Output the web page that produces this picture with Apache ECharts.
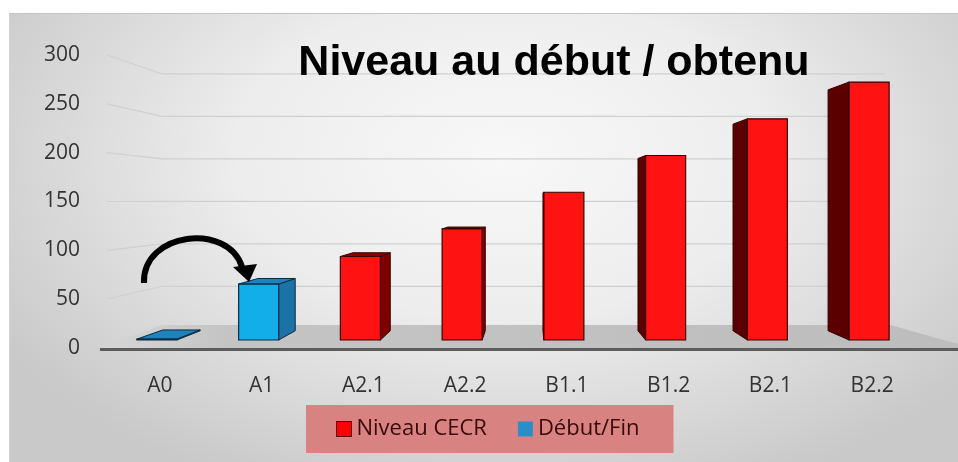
<!DOCTYPE html>
<html>
<head>
<meta charset="utf-8">
<script src="https://cdn.jsdelivr.net/npm/echarts@6/dist/echarts.min.js"></script>
<style>
    html, body { margin: 0; padding: 0; background: #fff; }
    #wrap { position: relative; width: 958px; height: 462px; overflow: hidden; }
    #bg {
        position: absolute; left: 9px; top: 13px; right: 0; bottom: 0;
        border-top: 1px solid #c4c4c4; border-left: 1px solid #d4d4d4;
        background: radial-gradient(ellipse 62% 80% at 52% 32%, #f8f8f8 0%, #ededed 45%, #c9c9c9 100%);
    }
    #chart { position: absolute; left: 0; top: 0; width: 958px; height: 462px; }
</style>
</head>
<body>
<div id="wrap">
    <div id="bg"></div>
    <div id="chart"></div>
</div>
<script>
    var categories = ['A0', 'A1', 'A2.1', 'A2.2', 'B1.1', 'B1.2', 'B2.1', 'B2.2'];
    var niveauCECR = [null, null, 90, 120, 160, 200, 240, 280];
    var debutFin = [0, 60, null, null, null, null, null, null];
    var yTicks = [0, 50, 100, 150, 200, 250, 300];

    var VP = [530, 200]; // point de fuite de la perspective

    function toPairs(arr) {
        var out = [];
        arr.forEach(function (v, i) { if (v !== null) out.push([i, v]); });
        return out;
    }

    function bar3d(c) {
        return function (params, api) {
            var i = api.value(0), v = api.value(1);
            var b = api.coord([i, 0]);
            var t = api.coord([i, v]);
            var cx = b[0] - 3;
            var x0 = cx - 20, x1 = cx + 20;
            var yb = b[1] + (VP[1] - b[1]) * 0.054;
            var yt = t[1] + (VP[1] - t[1]) * 0.06;
            function back(x, y) { return [x + (VP[0] - x) * 0.066, y + (VP[1] - y) * 0.066]; }
            var kids = [];
            var sx = cx < VP[0] ? x1 : x0;
            var sideCol = cx < VP[0] ? c.sideR : c.sideL;
            if (yb - yt > 0.5) {
                kids.push({
                    type: 'polygon',
                    shape: { points: [[sx, yt], [sx, yb], back(sx, yb), back(sx, yt)] },
                    style: { fill: sideCol, stroke: c.line, lineWidth: 1 }
                });
            }
            if (yt > VP[1]) {
                kids.push({
                    type: 'polygon',
                    shape: { points: [[x0, yt], [x1, yt], back(x1, yt), back(x0, yt)] },
                    style: { fill: c.top, stroke: c.line, lineWidth: 1 }
                });
            }
            if (yb - yt > 0.5) {
                kids.push({
                    type: 'rect',
                    shape: { x: x0, y: yt, width: 40, height: yb - yt },
                    style: { fill: c.front, stroke: c.line, lineWidth: 1.2 }
                });
            }
            return { type: 'group', children: kids };
        };
    }

    var red = { front: '#ff1212', sideL: '#5a0000', sideR: '#7e0000', top: '#8a0000', line: '#3a0000' };
    var blue = { front: '#12aee9', sideL: '#176fa3', sideR: '#1a72a6', top: '#1f82bb', line: '#0b2a44' };

    var myChart = echarts.init(document.getElementById('chart'));
    var option = {
        animation: false,
        title: {
            text: 'Niveau au début / obtenu',
            left: 549,
            top: 37,
            textAlign: 'center',
            textStyle: { fontFamily: 'Liberation Sans', fontWeight: 'bold', fontSize: 43, color: '#000' }
        },
        legend: {
            left: 306,
            top: 405,
            padding: [13, 34, 13, 30],
            backgroundColor: '#d98282',
            itemWidth: 15,
            itemHeight: 15,
            itemGap: 31,
            icon: 'rect',
            textStyle: { fontFamily: 'Open Sans', fontSize: 22, color: '#3a0808' },
            data: [
                { name: 'Niveau CECR', itemStyle: { color: '#ff0000', borderColor: '#5a0000', borderWidth: 1 } },
                { name: 'Début/Fin', itemStyle: { color: '#2a8fc8', borderWidth: 0 } }
            ]
        },
        grid: { left: 109, right: 35, top: 55, bottom: 114 },
        xAxis: {
            type: 'category',
            data: categories,
            axisLine: { show: false },
            axisTick: { show: false },
            axisLabel: { margin: 28, fontFamily: 'Open Sans', fontSize: 21, color: '#333' }
        },
        yAxis: {
            type: 'value',
            min: 0,
            max: 300,
            interval: 50,
            splitLine: { show: false },
            axisLine: { show: false },
            axisTick: { show: false },
            axisLabel: { margin: 29, fontFamily: 'Open Sans', fontSize: 21, color: '#333' }
        },
        graphic: [
            {
                type: 'polygon', z: 0,
                shape: { points: [[100, 348], [958, 348], [958, 344], [890, 325], [162, 325]] },
                style: {
                    fill: new echarts.graphic.LinearGradient(0, 0, 1, 0, [
                        { offset: 0, color: '#d6d6d6' },
                        { offset: 0.15, color: '#c4c4c4' },
                        { offset: 1, color: '#bdbdbd' }
                    ])
                }
            },
            {
                type: 'line', z: 1,
                shape: { x1: 100, y1: 349.5, x2: 958, y2: 349.5 },
                style: { stroke: '#5c5c5c', lineWidth: 3 }
            },
            {
                type: 'bezierCurve', z: 100,
                shape: { x1: 144, y1: 283, cpx1: 142, cpy1: 232, cpx2: 228, cpy2: 222, x2: 242, y2: 267 },
                style: { stroke: '#000', lineWidth: 6, fill: null }
            },
            {
                type: 'polygon', z: 100,
                shape: { points: [[233, 267], [257, 264], [249, 282]] },
                style: { fill: '#000' }
            }
        ],
        series: [
            {
                type: 'custom',
                name: 'wall',
                silent: true,
                z: 1,
                encode: { x: 0, y: 1 },
                data: yTicks.slice(1).map(function (v) { return [0, v]; }),
                renderItem: function (params, api) {
                    var p = api.coord([0, api.value(1)]);
                    var fx = 107, fy = p[1];
                    var bx = fx + (VP[0] - fx) * 0.13, by = fy + (VP[1] - fy) * 0.13;
                    return {
                        type: 'polyline',
                        shape: { points: [[fx, fy], [bx, by], [885, by]] },
                        style: { stroke: '#d0d0d0', lineWidth: 1.2, fill: null }
                    };
                }
            },
            {
                type: 'custom',
                name: 'Niveau CECR',
                encode: { x: 0, y: 1 },
                itemStyle: { color: '#ff0000' },
                data: toPairs(niveauCECR),
                renderItem: bar3d(red)
            },
            {
                type: 'custom',
                name: 'Début/Fin',
                encode: { x: 0, y: 1 },
                itemStyle: { color: '#2a8fc8' },
                data: toPairs(debutFin),
                renderItem: bar3d(blue)
            }
        ]
    };
    myChart.setOption(option);
</script>
</body>
</html>
